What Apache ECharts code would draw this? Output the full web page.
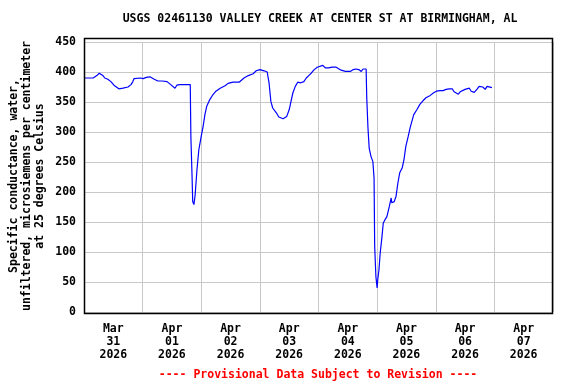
<!DOCTYPE html>
<html>
<head>
<meta charset="utf-8">
<script src="https://cdn.jsdelivr.net/npm/echarts@6/dist/echarts.min.js"></script>
<style>html,body{margin:0;padding:0;background:#fff}#c{width:576px;height:384px}</style>
</head>
<body>
<div id="c"></div>
<script>
const titleText = 'USGS 02461130 VALLEY CREEK AT CENTER ST AT BIRMINGHAM, AL';
const yAxisTitle = 'Specific conductance, water,\nunfiltered, microsiemens per centimeter\nat 25 degrees Celsius';
const footerText = '---- Provisional Data Subject to Revision ----';
const dayLabels = ['Mar\n31\n2026','Apr\n01\n2026','Apr\n02\n2026','Apr\n03\n2026','Apr\n04\n2026','Apr\n05\n2026','Apr\n06\n2026','Apr\n07\n2026'];
const yTicks = [0, 50, 100, 150, 200, 250, 300, 350, 400, 450];
const xStart = '2026-03-31 00:00';
const xEnd = '2026-04-08 00:00';

const times = [
'2026-03-31 00:00','2026-03-31 03:45','2026-03-31 05:15','2026-03-31 06:15','2026-03-31 07:00','2026-03-31 07:45','2026-03-31 08:30','2026-03-31 09:45','2026-03-31 11:00','2026-03-31 12:15','2026-03-31 14:15','2026-03-31 16:00','2026-03-31 18:00','2026-03-31 19:15','2026-03-31 20:00','2026-03-31 20:30','2026-03-31 21:15','2026-03-31 23:00',
'2026-04-01 00:15','2026-04-01 01:30','2026-04-01 03:00','2026-04-01 03:45','2026-04-01 04:45','2026-04-01 06:15','2026-04-01 08:00','2026-04-01 08:45','2026-04-01 10:00','2026-04-01 11:30','2026-04-01 13:15','2026-04-01 14:00','2026-04-01 15:15','2026-04-01 19:30','2026-04-01 19:45','2026-04-01 20:15','2026-04-01 20:30','2026-04-01 21:00','2026-04-01 21:30','2026-04-01 22:15','2026-04-01 23:00',
'2026-04-02 00:00','2026-04-02 00:45','2026-04-02 01:30','2026-04-02 02:15','2026-04-02 03:30','2026-04-02 04:45','2026-04-02 06:00','2026-04-02 07:45','2026-04-02 09:45','2026-04-02 11:00','2026-04-02 13:00','2026-04-02 15:30','2026-04-02 16:15','2026-04-02 17:30','2026-04-02 19:15','2026-04-02 20:00','2026-04-02 21:15','2026-04-02 22:30',
'2026-04-03 00:00','2026-04-03 01:45','2026-04-03 02:30','2026-04-03 03:00','2026-04-03 03:45','2026-04-03 04:30','2026-04-03 05:15','2026-04-03 06:45','2026-04-03 07:45','2026-04-03 09:30','2026-04-03 10:15','2026-04-03 11:00','2026-04-03 12:00','2026-04-03 12:45','2026-04-03 13:30','2026-04-03 14:30','2026-04-03 15:30','2026-04-03 16:45','2026-04-03 18:00','2026-04-03 19:00','2026-04-03 20:00','2026-04-03 21:00','2026-04-03 22:15','2026-04-03 23:30',
'2026-04-04 00:15','2026-04-04 01:45','2026-04-04 02:45','2026-04-04 03:30','2026-04-04 04:15','2026-04-04 05:30','2026-04-04 07:15','2026-04-04 08:00','2026-04-04 09:15','2026-04-04 11:00','2026-04-04 13:00','2026-04-04 14:15','2026-04-04 15:15','2026-04-04 16:30','2026-04-04 17:30','2026-04-04 18:15','2026-04-04 19:00','2026-04-04 19:30','2026-04-04 19:45','2026-04-04 20:15','2026-04-04 20:45','2026-04-04 21:30','2026-04-04 22:15','2026-04-04 22:45','2026-04-04 23:00','2026-04-04 23:30',
'2026-04-05 00:00','2026-04-05 00:15','2026-04-05 00:45','2026-04-05 01:15','2026-04-05 02:00','2026-04-05 02:30','2026-04-05 03:15','2026-04-05 04:00','2026-04-05 05:00','2026-04-05 05:45','2026-04-05 06:00','2026-04-05 07:00','2026-04-05 07:45','2026-04-05 08:30','2026-04-05 09:15','2026-04-05 10:15','2026-04-05 11:00','2026-04-05 11:45','2026-04-05 12:45','2026-04-05 13:30','2026-04-05 14:15','2026-04-05 15:00','2026-04-05 16:15','2026-04-05 17:30','2026-04-05 18:45','2026-04-05 20:00','2026-04-05 21:45','2026-04-05 23:00',
'2026-04-06 00:15','2026-04-06 01:45','2026-04-06 03:00','2026-04-06 04:15','2026-04-06 05:30','2026-04-06 06:45','2026-04-06 07:30','2026-04-06 08:15','2026-04-06 09:15','2026-04-06 10:00','2026-04-06 10:45','2026-04-06 12:00','2026-04-06 12:45','2026-04-06 13:45','2026-04-06 14:30','2026-04-06 15:45','2026-04-06 17:00','2026-04-06 17:45','2026-04-06 18:30','2026-04-06 19:15','2026-04-06 20:15','2026-04-06 21:00','2026-04-06 21:45','2026-04-06 23:00'
];
const conductance = [
390,390,394,398,397,394,390,388,384,378,372,373,375,379,384,389,391,390,
389,391,392,391,388,385,385,388,384,379,373,378,379,379,293,224,184,179,195,237,270,
293,309,329,343,354,362,368,373,377,381,383,383,386,390,394,394,397,402,
404,402,403,400,382,351,340,332,325,322,322,326,337,351,365,376,383,382,384,390,394,398,404,408,
411,411,407,405,407,408,408,405,403,401,401,404,405,404,401,405,408,405,357,307,273,259,251,223,109,59,
40,54,70,98,126,148,154,159,176,190,182,184,193,215,232,240,254,276,293,307,318,329,337,346,352,357,361,365,
368,369,369,371,372,372,367,367,363,367,368,371,373,373,368,366,372,376,377,375,371,376,374,374
];

const seriesData = times.map((t, i) => [t, conductance[i]]);
const FONT = '"DejaVu Sans Mono", monospace';

const chart = echarts.init(document.getElementById('c'), null, {renderer: 'canvas'});
chart.setOption({
  animation: false,
  backgroundColor: '#ffffff',
  grid: {left: 84, right: 23, top: 42, bottom: 72, containLabel: false},
  xAxis: [
    {type: 'time', min: xStart, max: xEnd, position: 'top', show: false},
    {type: 'category', data: dayLabels, position: 'bottom', boundaryGap: true,
     axisLine: {show: false}, axisTick: {show: false},
     splitLine: {show: true, interval: 0, lineStyle: {color: '#c8c8c8', width: 1}},
     axisLabel: {interval: 0, margin: 11, color: '#000', fontFamily: FONT, fontWeight: 'bold', fontSize: 11.5, lineHeight: 13}}
  ],
  yAxis: {type: 'value', min: yTicks[0], max: yTicks[yTicks.length - 1], interval: 50,
    axisLine: {show: false}, axisTick: {show: false},
    splitLine: {show: true, lineStyle: {color: '#c8c8c8', width: 1}},
    axisLabel: {margin: 8, color: '#000', fontFamily: FONT, fontWeight: 'bold', fontSize: 11.5}},
  graphic: [
    {type: 'rect', z: 100, silent: true, shape: {x: 84.5, y: 38.5, width: 468, height: 275}, style: {fill: 'none', stroke: '#000', lineWidth: 1.5}},
    {type: 'text', x: 320, y: 19, style: {text: titleText, textAlign: 'center', textVerticalAlign: 'middle', fill: '#000', font: 'bold 11.5px ' + FONT}},
    {type: 'text', x: 318, y: 375, style: {text: footerText, textAlign: 'center', textVerticalAlign: 'middle', fill: '#ff0000', font: 'bold 11.5px ' + FONT}},
    {type: 'text', x: 27, y: 176, rotation: Math.PI / 2, style: {text: yAxisTitle, textAlign: 'center', textVerticalAlign: 'middle', fill: '#000', font: 'bold 11.5px ' + FONT, lineHeight: 13}}
  ],
  series: [{type: 'line', xAxisIndex: 0, data: seriesData, showSymbol: false, symbol: 'none',
    lineStyle: {color: '#0000ff', width: 1.2}, clip: true}]
});
</script>
</body>
</html>
